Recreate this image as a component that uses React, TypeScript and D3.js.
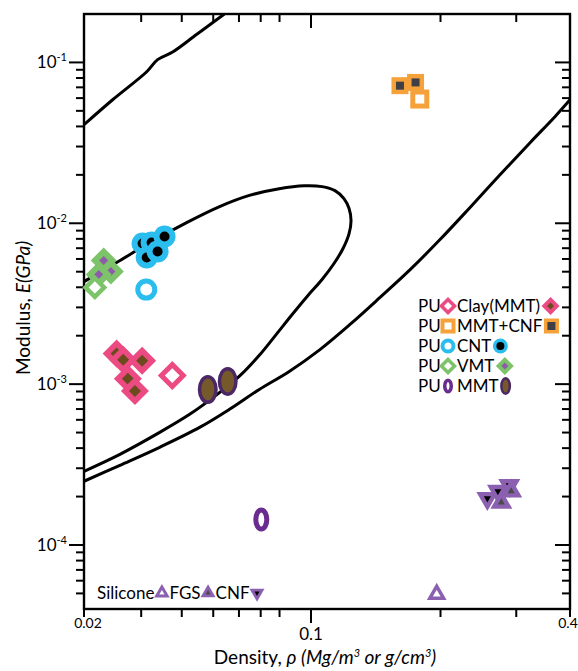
import { useEffect, useRef } from "react";
import * as d3 from "d3";

type Pt = [number, number]; // [density (g/cm3), modulus (GPa)]

// axis ticks
const xMinorTicks = [0.03, 0.04, 0.05, 0.06, 0.07, 0.08, 0.2, 0.3];
const xMajorTicks = [0.1];
const xTickLabels: [number, string][] = [
  [0.02, "0.02"],
  [0.1, "0.1"],
  [0.4, "0.4"],
];
const yExponents = [-1, -2, -3, -4];

// guide curves
const upperLine: Pt[] = [
  [0.02, 0.041], [0.0245, 0.0586], [0.0312, 0.0875], [0.0337, 0.104],
  [0.0375, 0.116], [0.0444, 0.149], [0.0512, 0.184], [0.0541, 0.2],
];
const envelope: Pt[] = [
  [0.02, 4.34e-3], [0.0252, 5.7e-3], [0.0319, 7.59e-3], [0.0414, 1.01e-2],
  [0.0523, 1.27e-2], [0.0646, 1.49e-2], [0.0798, 1.64e-2], [0.0953, 1.71e-2],
  [0.1061, 1.69e-2], [0.1137, 1.596e-2], [0.1193, 1.423e-2], [0.1226, 1.234e-2],
  [0.1239, 1.04e-2], [0.1226, 8.63e-3], [0.1187, 6.97e-3], [0.1131, 5.62e-3],
  [0.1061, 4.47e-3], [0.0973, 3.51e-3], [0.0875, 2.71e-3], [0.0782, 2.04e-3],
  [0.0693, 1.51e-3], [0.0602, 1.12e-3], [0.0505, 8.39e-4], [0.0423, 6.49e-4],
  [0.0342, 5.01e-4], [0.0258, 3.66e-4], [0.02, 2.87e-4],
];
const lowerLine: Pt[] = [
  [0.02, 2.49e-4], [0.0258, 3.13e-4], [0.0342, 4.05e-4], [0.0454, 5.38e-4],
  [0.0561, 6.97e-4], [0.0693, 9.27e-4], [0.0857, 1.2e-3], [0.1049, 1.64e-3],
  [0.1232, 2.35e-3], [0.1447, 3.46e-3], [0.17, 5.15e-3], [0.1995, 7.92e-3],
  [0.234, 1.25e-2], [0.275, 2.0e-2], [0.323, 3.17e-2], [0.369, 4.6e-2],
  [0.4, 5.86e-2],
];

// PU Clay(MMT)
const clayOpen: Pt[] = [[0.0374, 1.13e-3]];
const clayFilled: Pt[] = [
  [0.0252, 1.55e-3], [0.0264, 1.42e-3], [0.0302, 1.4e-3],
  [0.0273, 1.08e-3], [0.0287, 9.05e-4],
];
// PU MMT+CNF
const mmtCnfOpen: Pt[] = [[0.179, 0.0592]];
const mmtCnfFilled: Pt[] = [[0.161, 0.0717], [0.175, 0.0751]];
// PU CNT
const cntOpen: Pt[] = [[0.0311, 3.87e-3]];
const cntFilled: Pt[] = [
  [0.0303, 7.48e-3], [0.0323, 7.59e-3], [0.0312, 6.12e-3],
  [0.0337, 6.67e-3], [0.0354, 8.27e-3],
];
// PU VMT
const vmtOpen: Pt[] = [[0.0216, 3.99e-3]];
const vmtFilled: Pt[] = [[0.023, 5.87e-3], [0.0242, 5.01e-3], [0.0222, 4.8e-3]];
// PU MMT
const mmtOpen: Pt[] = [[0.0703, 1.44e-4]];
const mmtFilled: Pt[] = [[0.0481, 9.27e-4], [0.0554, 1.04e-3]];
// Silicone
const siliconeOpen: Pt[] = [[0.196, 4.94e-5]];
const siliconeCnf: Pt[] = [[0.257, 1.95e-4], [0.272, 2.16e-4], [0.289, 2.35e-4]];
const siliconeFgs: Pt[] = [[0.277, 1.84e-4], [0.292, 2.16e-4]];

const legendRows: [string, string][] = [
  ["clay", "Clay(MMT)"],
  ["mmtcnf", "MMT+CNF"],
  ["cnt", "CNT"],
  ["vmt", "VMT"],
  ["mmt", "MMT"],
];
const siliconeLegend: [string, string][] = [
  ["Silicone", "sil"],
  ["FGS", "fgs"],
  ["CNF", "cnf"],
];

const C = {
  pink: "#ec4a82",
  brown: "#6b4b1e",
  orange: "#f6a23b",
  slate: "#3e4046",
  blue: "#2bbdee",
  green: "#7dc36a",
  vmtInner: "#8d5ca8",
  mmtRing: "#6a2c8e",
  mmtEdge: "#4b2766",
  mmtFill: "#76592a",
  tri: "#8c60b0",
  triGray: "#4a4a4a",
};

type G = d3.Selection<SVGGElement, unknown, null, undefined>;

function diamond(g: G, color: string, inner: string, filled: boolean, h: number, hi: number, sw: number) {
  const sq = (hd: number) => d3.symbol().type(d3.symbolSquare).size(2 * hd * hd)()!;
  if (filled) {
    g.append("path").attr("d", sq(h)).attr("transform", "rotate(45)").attr("fill", color);
    g.append("path").attr("d", sq(hi)).attr("transform", "rotate(45)").attr("fill", inner);
  } else {
    g.append("path").attr("d", sq(h - sw * 0.707)).attr("transform", "rotate(45)")
      .attr("fill", "#fff").attr("stroke", color).attr("stroke-width", sw);
  }
}

function square(g: G, filled: boolean, s: number, si: number, sw: number) {
  if (filled) {
    g.append("rect").attr("x", -s / 2).attr("y", -s / 2).attr("width", s).attr("height", s).attr("fill", C.orange);
    g.append("rect").attr("x", -si / 2).attr("y", -si / 2).attr("width", si).attr("height", si).attr("fill", C.slate);
  } else {
    const a = s - sw;
    g.append("rect").attr("x", -a / 2).attr("y", -a / 2).attr("width", a).attr("height", a)
      .attr("fill", "#fff").attr("stroke", C.orange).attr("stroke-width", sw);
  }
}

function triangle(g: G, kind: string, side: number, inner: number, sw: number) {
  const tri = (s: number) => d3.symbol().type(d3.symbolTriangle).size((Math.sqrt(3) / 4) * s * s)()!;
  const rot = kind === "cnf" ? "rotate(180)" : null;
  if (kind === "sil") {
    g.append("path").attr("d", tri(side - sw * 1.5)).attr("fill", "#fff")
      .attr("stroke", C.tri).attr("stroke-width", sw);
  } else {
    g.append("path").attr("d", tri(side)).attr("transform", rot).attr("fill", C.tri);
    g.append("path").attr("d", tri(inner)).attr("transform", rot)
      .attr("fill", kind === "cnf" ? "#000" : C.triGray);
  }
}

// draws one marker; legend markers are smaller than plot markers
function marker(parent: G, kind: string, filled: boolean, cx: number, cy: number, legend = false) {
  const g = parent.append("g").attr("transform", `translate(${cx},${cy})`);
  switch (kind) {
    case "clay":
      legend ? diamond(g, C.pink, C.brown, filled, 9, 3.5, 3.5) : diamond(g, C.pink, C.brown, filled, filled ? 14 : 14.5, 6, 5);
      break;
    case "vmt":
      legend ? diamond(g, C.green, C.vmtInner, filled, 9, 3.5, 3.5) : diamond(g, C.green, C.vmtInner, filled, filled ? 13 : 12.5, 4.5, 4.5);
      break;
    case "mmtcnf":
      legend ? square(g, filled, 15, 8, 4) : square(g, filled, filled ? 17 : 19, 8, 5);
      break;
    case "cnt": {
      const R = legend ? 7.5 : 11;
      const sw = legend ? 4 : 5;
      if (filled) {
        g.append("circle").attr("r", R).attr("fill", C.blue);
        g.append("circle").attr("r", legend ? 4 : 5).attr("fill", "#000");
      } else {
        g.append("circle").attr("r", R - sw / 2).attr("fill", "#fff").attr("stroke", C.blue).attr("stroke-width", sw);
      }
      break;
    }
    case "mmt": {
      if (filled) {
        const sw = legend ? 2.5 : 3.5;
        g.append("ellipse").attr("rx", (legend ? 5.5 : 10) - sw / 2).attr("ry", (legend ? 9 : 14.5) - sw / 2)
          .attr("fill", C.mmtFill).attr("stroke", C.mmtEdge).attr("stroke-width", sw);
      } else {
        const sw = legend ? 3.5 : 5;
        g.append("ellipse").attr("rx", (legend ? 5 : 8) - sw / 2).attr("ry", (legend ? 7.5 : 12) - sw / 2)
          .attr("fill", "#fff").attr("stroke", C.mmtRing).attr("stroke-width", sw);
      }
      break;
    }
    default:
      legend ? triangle(g, kind, 15, 5, 3) : triangle(g, kind, kind === "sil" ? 19 : 22, 7, 3.5);
  }
}

export default function App() {
  const svgRef = useRef<SVGSVGElement>(null);

  useEffect(() => {
    if (!svgRef.current) return;
    const svg = d3.select(svgRef.current);
    svg.selectAll("*").remove();

    const left = 84, right = 570, top = 14, bottom = 609;
    const x = d3.scaleLog().domain([0.02, 0.1, 0.4]).range([left, 311, right]);
    const y = d3.scaleLog().domain([4e-5, 0.2]).range([bottom, top]);

    svg.append("defs").append("clipPath").attr("id", "plot-clip")
      .append("rect").attr("x", left).attr("y", top).attr("width", right - left).attr("height", bottom - top);

    // frame and ticks
    const ax = svg.append("g").attr("stroke", "#000").attr("stroke-width", 2);
    ax.append("rect").attr("x", left).attr("y", top).attr("width", right - left).attr("height", bottom - top)
      .attr("fill", "none").attr("stroke-width", 2.4);

    const yMajor = yExponents.map((e) => Math.pow(10, e));
    const yMinor: number[] = [];
    [-1, -2, -3, -4, -5].forEach((e) => {
      for (let m = 2; m <= 9; m++) {
        const v = m * Math.pow(10, e);
        if (v > 4.01e-5 && v < 0.199) yMinor.push(v);
      }
    });
    const hTick = (v: number, len: number) => {
      ax.append("line").attr("x1", left - len).attr("x2", left).attr("y1", y(v)).attr("y2", y(v));
      ax.append("line").attr("x1", right - len).attr("x2", right).attr("y1", y(v)).attr("y2", y(v));
    };
    yMajor.forEach((v) => hTick(v, 15));
    yMinor.forEach((v) => hTick(v, 8));

    const vTick = (v: number, len: number) => {
      ax.append("line").attr("x1", x(v)).attr("x2", x(v)).attr("y1", bottom).attr("y2", bottom + len);
      ax.append("line").attr("x1", x(v)).attr("x2", x(v)).attr("y1", top).attr("y2", top + len);
    };
    xMajorTicks.forEach((v) => vTick(v, 14));
    xMinorTicks.forEach((v) => vTick(v, 8));
    [0.02, 0.4].forEach((v) =>
      ax.append("line").attr("x1", x(v)).attr("x2", x(v)).attr("y1", bottom).attr("y2", bottom + 8));

    // tick labels
    const txt = svg.append("g").attr("fill", "#000");
    yExponents.forEach((e) => {
      const t = txt.append("text").attr("x", 67).attr("y", y(Math.pow(10, e)) + 6)
        .attr("text-anchor", "end").attr("font-size", 17);
      t.append("tspan").text("10");
      t.append("tspan").attr("dy", -7).attr("font-size", 11).text(`-${-e}`);
    });
    xTickLabels.forEach(([v, s]) => {
      const big = s === "0.1";
      txt.append("text")
        .attr("x", s === "0.02" ? x(v) + 4 : s === "0.4" ? x(v) - 2 : x(v))
        .attr("y", big ? 640 : 628)
        .attr("text-anchor", "middle")
        .attr("font-size", big ? 17 : 14)
        .text(s);
    });

    // axis titles
    const xt = txt.append("text").attr("x", 325).attr("y", 664).attr("text-anchor", "middle").attr("font-size", 19);
    xt.append("tspan").text("Density, ");
    xt.append("tspan").attr("font-style", "italic").text("\u03c1 (Mg/m");
    xt.append("tspan").attr("font-style", "italic").attr("font-size", 11).attr("dy", -7).text("3");
    xt.append("tspan").attr("font-style", "italic").attr("dy", 7).text(" or g/cm");
    xt.append("tspan").attr("font-style", "italic").attr("font-size", 11).attr("dy", -7).text("3");
    xt.append("tspan").attr("font-style", "italic").attr("dy", 7).text(")");

    const yt = txt.append("text").attr("transform", "translate(30,308) rotate(-90)")
      .attr("text-anchor", "middle").attr("font-size", 19);
    yt.append("tspan").text("Modulus, ");
    yt.append("tspan").attr("font-style", "italic").text("E(GPa)");

    // guide curves
    const line = d3.line<Pt>().x((d) => x(d[0])).y((d) => y(d[1])).curve(d3.curveCatmullRom.alpha(0.5));
    const curves = svg.append("g").attr("clip-path", "url(#plot-clip)")
      .attr("fill", "none").attr("stroke", "#000").attr("stroke-width", 3);
    [upperLine, envelope, lowerLine].forEach((c) => curves.append("path").attr("d", line(c)!));

    // data markers
    const pts = svg.append("g") as unknown as G;
    const place = (data: Pt[], kind: string, filled: boolean) =>
      data.forEach((d) => marker(pts, kind, filled, x(d[0]), y(d[1])));
    place(clayFilled, "clay", true);
    place(clayOpen, "clay", false);
    place(mmtCnfFilled, "mmtcnf", true);
    place(mmtCnfOpen, "mmtcnf", false);
    place(cntOpen, "cnt", false);
    place(cntFilled, "cnt", true);
    place(vmtFilled, "vmt", true);
    place(vmtOpen, "vmt", false);
    place(mmtFilled, "mmt", true);
    place(mmtOpen, "mmt", false);
    place(siliconeOpen, "sil", false);
    place(siliconeCnf, "cnf", true);
    place(siliconeFgs, "fgs", true);

    // PU legend
    const leg = svg.append("g") as unknown as G;
    const halfW: Record<string, number> = { clay: 9, vmt: 9, mmtcnf: 7.5, cnt: 7.5, mmt: 5.5 };
    legendRows.forEach(([kind, label], i) => {
      const cy = 306 + i * 20;
      leg.append("text").attr("x", 418).attr("y", cy + 6).attr("font-size", 17).text("PU");
      marker(leg, kind, false, 448, cy, true);
      const t = leg.append("text").attr("x", 457).attr("y", cy + 6).attr("font-size", 17).text(label);
      const w = (t.node() as SVGTextElement).getComputedTextLength();
      marker(leg, kind, true, 457 + w + halfW[kind] + 1.5, cy, true);
    });

    // silicone legend
    let cx = 97;
    siliconeLegend.forEach(([label, kind]) => {
      const t = leg.append("text").attr("x", cx).attr("y", 599).attr("font-size", 17).text(label);
      const w = (t.node() as SVGTextElement).getComputedTextLength();
      marker(leg, kind, kind !== "sil", cx + w + 7.5, 593, true);
      cx += w + 15;
    });
  }, []);

  return (
    <svg
      ref={svgRef}
      width={578}
      height={671}
      style={{ position: "absolute", left: 0, top: 0, background: "#fff", fontFamily: "Lato, sans-serif" }}
    />
  );
}
